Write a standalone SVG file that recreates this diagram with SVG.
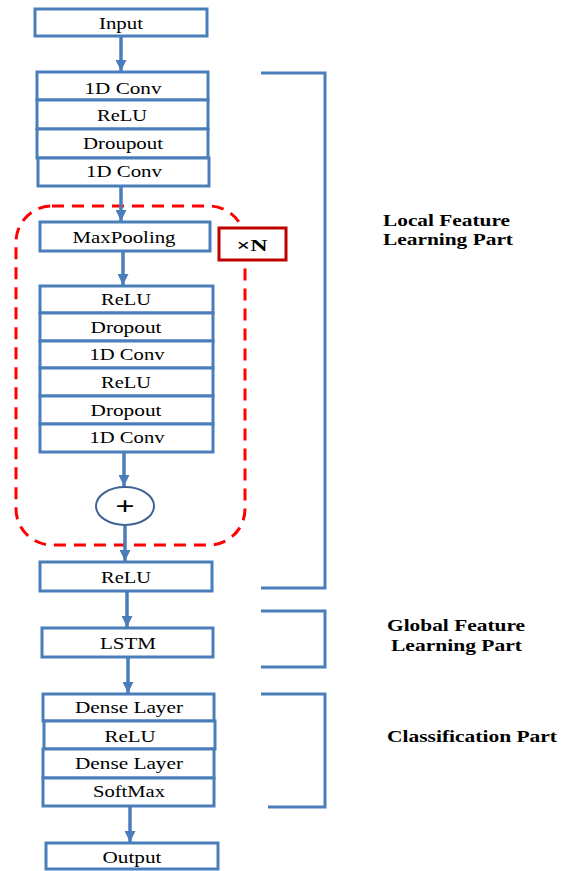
<svg xmlns="http://www.w3.org/2000/svg" width="566" height="871" viewBox="0 0 566 871">
<style>
.box{fill:#fff;stroke:#4a7ebb;stroke-width:3}
.t{font-family:"Liberation Serif","Times New Roman",serif;font-size:17px;fill:#000;text-anchor:middle}
.lbl{font-family:"Liberation Serif","Times New Roman",serif;font-size:17.5px;font-weight:bold;fill:#000}
.conn{stroke:#4a7ebb;stroke-width:3.5;fill:none;marker-end:url(#ah)}
.br{stroke:#4a7ebb;stroke-width:3;fill:none}
</style>
<defs>
<marker id="ah" viewBox="0 0 10 10" refX="10" refY="5" markerWidth="12" markerHeight="11" markerUnits="userSpaceOnUse" orient="auto">
<path d="M0,0 L10,5 L0,10 z" fill="#4a7ebb"/>
</marker>
</defs>
<rect width="566" height="871" fill="#fff"/>

<g id="repeat-block">
<rect x="16" y="206" width="229" height="339" rx="36" ry="36" fill="none" stroke="#ff0000" stroke-width="3" stroke-dasharray="12 8"/>
</g>

<g id="connectors">
<line class="conn" x1="121" y1="37" x2="121" y2="71"/>
<line class="conn" x1="121" y1="186" x2="121" y2="221"/>
<line class="conn" x1="123" y1="251" x2="123" y2="285"/>
<line class="conn" x1="124" y1="452" x2="124" y2="486"/>
<line class="conn" x1="125" y1="526" x2="125" y2="561"/>
<line class="conn" x1="127" y1="591" x2="127" y2="627"/>
<line class="conn" x1="128" y1="657" x2="128" y2="693"/>
<line class="conn" x1="130" y1="806" x2="130" y2="842"/>
</g>

<g id="input">
<rect class="box" x="35" y="9" width="172" height="27"/>
<text class="t" x="121" y="29" textLength="44" lengthAdjust="spacingAndGlyphs">Input</text>
</g>

<g id="conv-block-1">
<rect class="box" x="37" y="72" width="171" height="28"/>
<text class="t" x="123" y="94" textLength="77" lengthAdjust="spacingAndGlyphs">1D Conv</text>
<rect class="box" x="37" y="100" width="171" height="29"/>
<text class="t" x="122" y="121" textLength="50" lengthAdjust="spacingAndGlyphs">ReLU</text>
<rect class="box" x="37" y="129" width="171" height="29"/>
<text class="t" x="123" y="149" textLength="80" lengthAdjust="spacingAndGlyphs">Droupout</text>
<rect class="box" x="38" y="158" width="171" height="28"/>
<text class="t" x="124" y="177" textLength="76" lengthAdjust="spacingAndGlyphs">1D Conv</text>
</g>

<g id="maxpooling">
<rect class="box" x="40" y="222" width="170" height="29"/>
<text class="t" x="124" y="243" textLength="103" lengthAdjust="spacingAndGlyphs">MaxPooling</text>
</g>

<g id="times-n">
<rect x="219" y="228" width="67" height="32" fill="#fff" stroke="#c00000" stroke-width="3"/>
<text class="lbl" x="252" y="251" text-anchor="middle" font-size="18" textLength="31" lengthAdjust="spacingAndGlyphs">×N</text>
</g>

<g id="conv-block-2">
<rect class="box" x="40" y="286" width="173" height="27"/>
<text class="t" x="126" y="305" textLength="50" lengthAdjust="spacingAndGlyphs">ReLU</text>
<rect class="box" x="40" y="313" width="173" height="28"/>
<text class="t" x="126" y="333" textLength="71" lengthAdjust="spacingAndGlyphs">Dropout</text>
<rect class="box" x="40" y="341" width="173" height="27"/>
<text class="t" x="127" y="360" textLength="75" lengthAdjust="spacingAndGlyphs">1D Conv</text>
<rect class="box" x="40" y="368" width="173" height="28"/>
<text class="t" x="126" y="388" textLength="50" lengthAdjust="spacingAndGlyphs">ReLU</text>
<rect class="box" x="40" y="396" width="173" height="28"/>
<text class="t" x="126" y="416" textLength="71" lengthAdjust="spacingAndGlyphs">Dropout</text>
<rect class="box" x="40" y="424" width="173" height="28"/>
<text class="t" x="127" y="443" textLength="75" lengthAdjust="spacingAndGlyphs">1D Conv</text>
</g>

<g id="add">
<ellipse cx="125" cy="506" rx="29" ry="19" fill="#fff" stroke="#3d6396" stroke-width="2"/>
<text x="125" y="514" text-anchor="middle" font-family="Liberation Sans, Arial, sans-serif" font-size="24" textLength="19" lengthAdjust="spacingAndGlyphs">+</text>
</g>

<g id="relu-final">
<rect class="box" x="40" y="562" width="172" height="29"/>
<text class="t" x="126" y="583" textLength="50" lengthAdjust="spacingAndGlyphs">ReLU</text>
</g>

<g id="lstm">
<rect class="box" x="42" y="628" width="171" height="29"/>
<text class="t" x="128" y="649" textLength="56" lengthAdjust="spacingAndGlyphs">LSTM</text>
</g>

<g id="classifier">
<rect class="box" x="43" y="694" width="171" height="27"/>
<text class="t" x="129" y="713" textLength="108" lengthAdjust="spacingAndGlyphs">Dense Layer</text>
<rect class="box" x="44" y="721" width="171" height="28"/>
<text class="t" x="130" y="742" textLength="51" lengthAdjust="spacingAndGlyphs">ReLU</text>
<rect class="box" x="43" y="749" width="171" height="29"/>
<text class="t" x="129" y="769" textLength="108" lengthAdjust="spacingAndGlyphs">Dense Layer</text>
<rect class="box" x="43" y="778" width="171" height="28"/>
<text class="t" x="129" y="797" textLength="72" lengthAdjust="spacingAndGlyphs">SoftMax</text>
</g>

<g id="output">
<rect class="box" x="46" y="843" width="172" height="26"/>
<text class="t" x="132" y="863" textLength="59" lengthAdjust="spacingAndGlyphs">Output</text>
</g>

<g id="brackets">
<polyline class="br" points="261,73 325,73 325,588 261,588"/>
<polyline class="br" points="261,611 325,611 325,667 261,667"/>
<polyline class="br" points="261,694 325,694 325,807 268,807"/>
</g>

<g id="labels">
<text class="lbl"><tspan x="383" y="226" textLength="127" lengthAdjust="spacingAndGlyphs">Local Feature</tspan></text>
<text class="lbl"><tspan x="383" y="245" textLength="130" lengthAdjust="spacingAndGlyphs">Learning Part</tspan></text>
<text class="lbl"><tspan x="387" y="631" textLength="138" lengthAdjust="spacingAndGlyphs">Global Feature</tspan></text>
<text class="lbl"><tspan x="391" y="651" textLength="131" lengthAdjust="spacingAndGlyphs">Learning Part</tspan></text>
<text class="lbl"><tspan x="387" y="742" textLength="170" lengthAdjust="spacingAndGlyphs">Classification Part</tspan></text>
</g>
</svg>
